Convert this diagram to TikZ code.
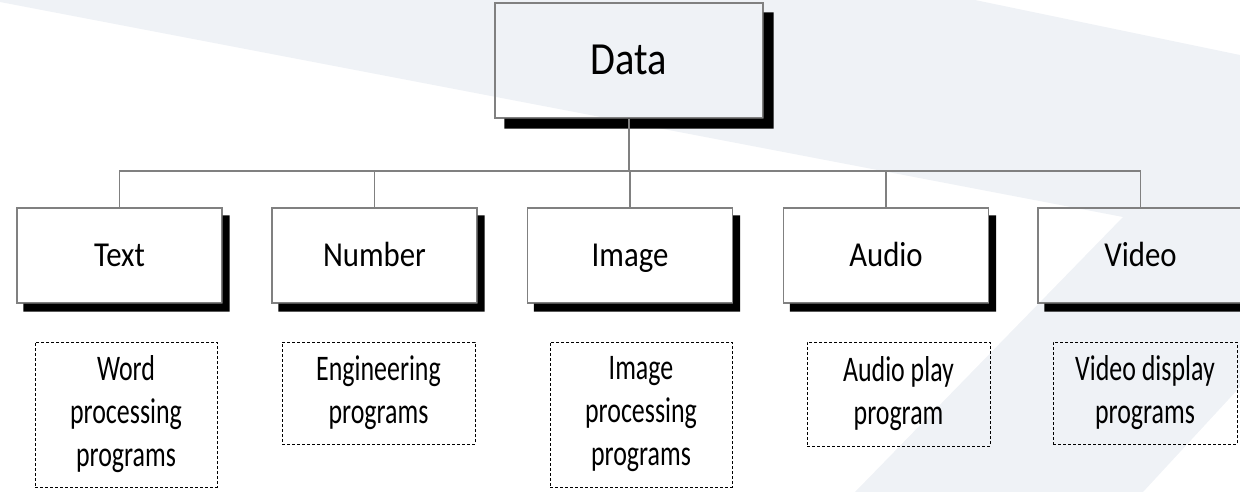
\documentclass[tikz,border=0pt]{standalone}
\usepackage{fontspec}
\setmainfont{Carlito}
\newfontfamily\topfont[FakeStretch=0.88]{Carlito}
\newfontfamily\progfont[FakeStretch=0.72]{Carlito}
\definecolor{bggray}{RGB}{239,242,246}
\definecolor{linegray}{RGB}{128,128,128}
\newcommand\dropshadow[3]{%
  \fill[black] ([yshift=-#3pt]#1.north east) -- ([xshift=#2pt,yshift=-#3pt]#1.north east)
    -- ([xshift=#2pt,yshift=-#3pt]#1.south east) -- ([xshift=#2pt,yshift=-#3pt]#1.south west)
    -- ([xshift=#2pt]#1.south west) -- (#1.south east) -- cycle;}
\tikzset{
  mainbox/.style={draw=linegray, line width=1.2pt, minimum width=268pt, minimum height=115pt,
    inner sep=0pt, text height=37pt, text depth=8pt, font=\topfont\fontsize{46}{50}\selectfont},
  catbox/.style={draw=linegray, line width=1.2pt, minimum width=205pt, minimum height=95pt,
    inner sep=0pt, text height=30pt, text depth=8pt, font=\topfont\fontsize{35}{40}\selectfont},
  progbox/.style={draw=black, line width=1pt, dash pattern=on 3pt off 2pt, inner sep=0pt,
    align=center, font=\progfont\fontsize{36}{43}\selectfont},
  conn/.style={draw=linegray, line width=1.2pt}
}
\begin{document}
\begin{tikzpicture}[x=1pt,y=-1pt]
\useasboundingbox (0,0) rectangle (1240,492);
\clip (0,0) rectangle (1240,492);
% background shape
\fill[bggray] (0,0) -- (975,0) -- (1240,55) -- (1240,387) -- (1143,492) -- (855,492)
  -- (1123,217) -- (0,2) -- cycle;
% main box
\node[mainbox] (data) at (629,60.5) {Data};
\dropshadow{data}{10}{10}
% category boxes
\node[catbox] (text)   at (119.5,255.5) {Text};
\node[catbox] (number) at (374.5,255.5) {Number};
\node[catbox] (image)  at (630,255.5)   {Image};
\node[catbox] (audio)  at (886,255.5)   {Audio};
\node[catbox] (video)  at (1140.5,255.5) {Video};
\foreach \n in {text,number,image,audio,video}{\dropshadow{\n}{7}{8}}
% connectors
\coordinate (bus) at (629,171);
\draw[conn] (data.south) -- (bus);
\foreach \n in {text,number,image,audio,video}{\draw[conn] (\n.north) |- (bus);}
% program boxes
\node[progbox, minimum width=182pt, minimum height=145pt] (word) at (126,414.5)
  {Word\\processing\\programs};
\node[progbox, minimum width=193pt, minimum height=102pt] (eng) at (378.5,393)
  {Engineering\\programs};
\node[progbox, minimum width=182pt, minimum height=145pt] (imgp) at (641,414.5)
  {Image\\processing\\programs};
\node[progbox, minimum width=183pt, minimum height=104pt] (aud) at (898.5,394)
  {Audio play\\program};
\node[progbox, minimum width=184pt, minimum height=102pt] (vid) at (1145,393)
  {Video display\\programs};
\end{tikzpicture}
\end{document}
